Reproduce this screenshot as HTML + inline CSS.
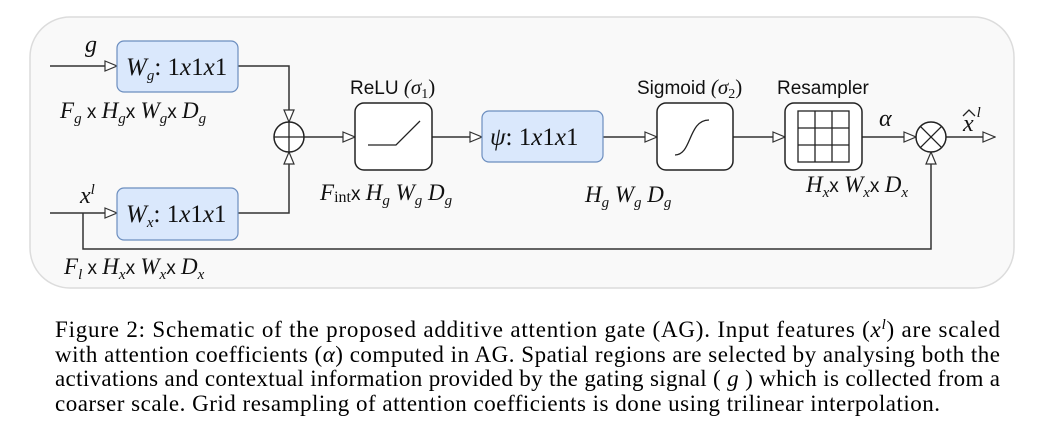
<!DOCTYPE html>
<html><head><meta charset="utf-8"><style>
html,body{margin:0;padding:0;background:#fff;}
svg{display:block;}
.m{font-family:"Liberation Serif",serif;font-style:italic;}
.s{font-family:"Liberation Sans",sans-serif;}
.c{font-family:"Liberation Serif",serif;font-size:23px;}
</style></head><body>
<svg width="1044" height="429" viewBox="0 0 1044 429" xmlns="http://www.w3.org/2000/svg">
<defs>
<marker id="a" markerWidth="14" markerHeight="12" refX="13" refY="6" orient="auto" markerUnits="userSpaceOnUse">
<path d="M1,1 L13,6 L1,11 Z" fill="#fff" stroke="#333" stroke-width="1.2"/></marker>
</defs>
<rect x="30" y="17" width="984" height="271" rx="40" fill="#f9f9f9" stroke="#dcdcdc" stroke-width="1.5"/>
<g stroke="#333" stroke-width="1.5" fill="none">
<path d="M50,66 H117" marker-end="url(#a)"/>
<path d="M50,213 H117" marker-end="url(#a)"/>
<path d="M238,66 H289 V122" marker-end="url(#a)"/>
<path d="M238,213 H289 V152" marker-end="url(#a)"/>
<path d="M304,137 H355" marker-end="url(#a)"/>
<path d="M432,137 H482" marker-end="url(#a)"/>
<path d="M603,137 H657" marker-end="url(#a)"/>
<path d="M733,137 H785" marker-end="url(#a)"/>
<path d="M862,137 H916" marker-end="url(#a)"/>
<path d="M946,137 H995" marker-end="url(#a)"/>
<path d="M83,213 V249 H931 V152" marker-end="url(#a)"/>
</g>
<rect x="117" y="41" width="121" height="51" rx="7" fill="#dae8fc" stroke="#6c8ebf" stroke-width="1.2"/>
<rect x="117" y="188" width="121" height="52" rx="7" fill="#dae8fc" stroke="#6c8ebf" stroke-width="1.2"/>
<rect x="482" y="111" width="121" height="51" rx="7" fill="#dae8fc" stroke="#6c8ebf" stroke-width="1.2"/>
<g stroke="#222" stroke-width="1.5" fill="#fff">
<circle cx="289" cy="137" r="15"/>
<circle cx="931" cy="137" r="15"/>
<rect x="355" y="103" width="77" height="67" rx="9"/>
<rect x="657" y="103" width="76" height="67" rx="9"/>
<rect x="785" y="103" width="77" height="67" rx="9"/>
</g>
<g stroke="#222" stroke-width="1.3" fill="none">
<path d="M274,137 H304 M289,122 V152"/>
<path d="M920.4,126.4 L941.6,147.6 M941.6,126.4 L920.4,147.6"/>
<path d="M368,145 H396 L420,121"/>
<path d="M675,155 C692,155 688,120 709,120"/>
<rect x="798" y="111" width="51" height="51"/>
<path d="M815,111 V162 M832,111 V162 M798,128 H849 M798,145 H849"/>
<path d="M963,116 L969,110 L975,116"/>
</g>
<g fill="#111">
<text class="m" x="85" y="52" font-size="24">g</text>
<text class="m" x="80" y="203" font-size="24">x<tspan dy="-9" font-size="15">l</tspan></text>
<text x="126" y="75" font-size="25" class="m">W<tspan dy="5" font-size="15">g</tspan><tspan dy="-5" font-style="normal">: 1</tspan>x<tspan font-style="normal">1</tspan>x<tspan font-style="normal">1</tspan></text>
<text x="126" y="222" font-size="25" class="m">W<tspan dy="5" font-size="15">x</tspan><tspan dy="-5" font-style="normal">: 1</tspan>x<tspan font-style="normal">1</tspan>x<tspan font-style="normal">1</tspan></text>
<text x="490" y="145" font-size="25" class="m">ψ<tspan font-style="normal">: 1</tspan>x<tspan font-style="normal">1</tspan>x<tspan font-style="normal">1</tspan></text>
<text class="s" x="350" y="94" font-size="19">ReLU <tspan class="m" font-family="Liberation Serif" font-size="21">(σ</tspan><tspan font-family="Liberation Serif" font-size="14" dy="4">1</tspan><tspan font-family="Liberation Serif" font-size="21" dy="-4">)</tspan></text>
<text class="s" x="637" y="94" font-size="19">Sigmoid <tspan class="m" font-family="Liberation Serif" font-size="21">(σ</tspan><tspan font-family="Liberation Serif" font-size="14" dy="4">2</tspan><tspan font-family="Liberation Serif" font-size="21" dy="-4">)</tspan></text>
<text class="s" x="777" y="94" font-size="19">Resampler</text>
<text class="m" x="879" y="126" font-size="24">α</text>
<text class="m" x="963" y="131" font-size="24">x<tspan dx="3" dy="-14" font-size="15">l</tspan></text>
<text x="60" y="118" font-size="23" class="m">F<tspan dy="5" font-size="15">g</tspan><tspan dy="-5" class="s" font-style="normal" font-size="19"> x </tspan>H<tspan dy="5" font-size="15">g</tspan><tspan dy="-5" class="s" font-style="normal" font-size="19">x </tspan>W<tspan dy="5" font-size="15">g</tspan><tspan dy="-5" class="s" font-style="normal" font-size="19">x </tspan>D<tspan dy="5" font-size="15">g</tspan></text>
<text x="64" y="274" font-size="23" class="m">F<tspan dy="5" font-size="15">l</tspan><tspan dy="-5" class="s" font-style="normal" font-size="19"> x </tspan>H<tspan dy="5" font-size="15">x</tspan><tspan dy="-5" class="s" font-style="normal" font-size="19">x </tspan>W<tspan dy="5" font-size="15">x</tspan><tspan dy="-5" class="s" font-style="normal" font-size="19">x </tspan>D<tspan dy="5" font-size="15">x</tspan></text>
<text x="320" y="200" font-size="23" class="m">F<tspan dy="2" font-size="16" font-style="normal">int</tspan><tspan dy="-2" class="s" font-style="normal" font-size="19">x </tspan>H<tspan dy="5" font-size="15">g</tspan><tspan dy="-5"> W</tspan><tspan dy="5" font-size="15">g</tspan><tspan dy="-5">  D</tspan><tspan dy="5" font-size="15">g</tspan></text>
<text x="585" y="202" font-size="23" class="m">H<tspan dy="5" font-size="15">g</tspan><tspan dy="-5"> W</tspan><tspan dy="5" font-size="15">g</tspan><tspan dy="-5">  D</tspan><tspan dy="5" font-size="15">g</tspan></text>
<text x="806" y="192" font-size="23" class="m">H<tspan dy="5" font-size="15">x</tspan><tspan dy="-5" class="s" font-style="normal" font-size="19">x </tspan>W<tspan dy="5" font-size="15">x</tspan><tspan dy="-5" class="s" font-style="normal" font-size="19">x </tspan>D<tspan dy="5" font-size="15">x</tspan></text>
</g>
<g class="c" fill="#000">
<text x="55" y="337" textLength="945" lengthAdjust="spacing">Figure 2: Schematic of the proposed additive attention gate (AG). Input features (<tspan font-style="italic">x</tspan><tspan dy="-8" font-size="15" font-style="italic">l</tspan><tspan dy="8">) are scaled</tspan></text>
<text x="55" y="362" textLength="945" lengthAdjust="spacing">with attention coefficients (<tspan font-style="italic">α</tspan>) computed in AG. Spatial regions are selected by analysing both the</text>
<text x="55" y="386" textLength="945" lengthAdjust="spacing">activations and contextual information provided by the gating signal ( <tspan font-style="italic">g</tspan> ) which is collected from a</text>
<text x="55" y="411" textLength="885" lengthAdjust="spacing">coarser scale. Grid resampling of attention coefficients is done using trilinear interpolation.</text>
</g>
</svg>
</body></html>
